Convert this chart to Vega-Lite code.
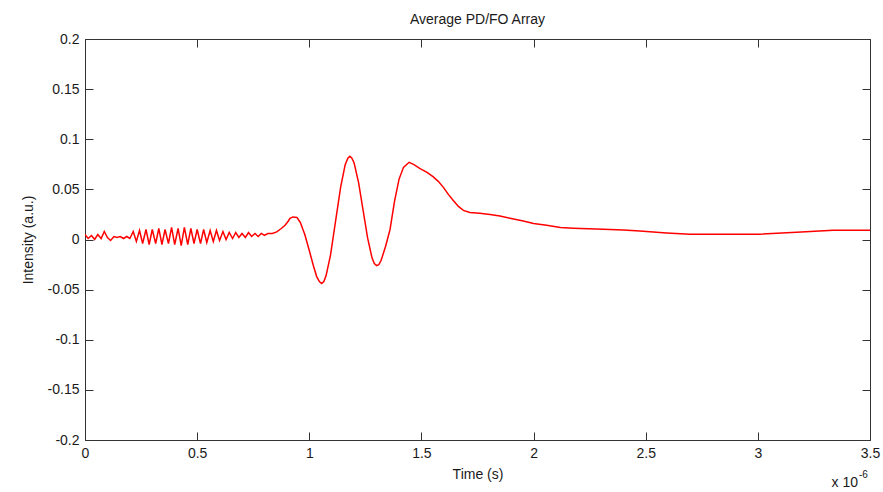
{
  "$schema": "https://vega.github.io/schema/vega-lite/v6.json",
  "width": 785,
  "height": 401,
  "autosize": {"type": "none"},
  "padding": {"left": 85, "top": 39, "right": 13, "bottom": 52},
  "background": "white",
  "config": {
    "view": {"stroke": null},
    "font": "Liberation Sans",
    "axis": {
      "grid": false,
      "domainColor": "#333333",
      "domainWidth": 1,
      "tickColor": "#333333",
      "tickWidth": 1,
      "tickSize": -8,
      "labelFlush": false,
      "labelOverlap": false,
      "labelFont": "Liberation Sans",
      "labelFontSize": 14,
      "labelColor": "#1a1a1a",
      "titleFont": "Liberation Sans",
      "titleFontSize": 14,
      "titleFontWeight": "normal",
      "titleColor": "#1a1a1a"
    }
  },
  "title": {
    "text": "Average PD/FO Array",
    "font": "Liberation Sans",
    "fontSize": 14,
    "fontWeight": "normal",
    "color": "#1a1a1a",
    "offset": 5
  },
  "data": {
    "values": [
      {"t": 0.000, "v": 0.005}, {"t": 0.014, "v": 0.001}, {"t": 0.029, "v": 0.004}, {"t": 0.043, "v": 0.000},
      {"t": 0.057, "v": 0.005}, {"t": 0.072, "v": 0.001}, {"t": 0.086, "v": 0.008}, {"t": 0.100, "v": 0.002},
      {"t": 0.114, "v": -0.001}, {"t": 0.129, "v": 0.003}, {"t": 0.143, "v": 0.002}, {"t": 0.157, "v": 0.003},
      {"t": 0.172, "v": 0.001}, {"t": 0.186, "v": 0.003}, {"t": 0.200, "v": 0.001}, {"t": 0.215, "v": 0.008},
      {"t": 0.229, "v": -0.002}, {"t": 0.243, "v": 0.009}, {"t": 0.257, "v": -0.004}, {"t": 0.272, "v": 0.010},
      {"t": 0.286, "v": -0.005}, {"t": 0.300, "v": 0.010}, {"t": 0.315, "v": -0.004}, {"t": 0.329, "v": 0.011},
      {"t": 0.343, "v": -0.005}, {"t": 0.357, "v": 0.010}, {"t": 0.372, "v": -0.004}, {"t": 0.386, "v": 0.012},
      {"t": 0.400, "v": -0.005}, {"t": 0.415, "v": 0.011}, {"t": 0.429, "v": -0.006}, {"t": 0.443, "v": 0.012},
      {"t": 0.458, "v": -0.005}, {"t": 0.472, "v": 0.011}, {"t": 0.486, "v": -0.004}, {"t": 0.500, "v": 0.010},
      {"t": 0.515, "v": -0.004}, {"t": 0.529, "v": 0.010}, {"t": 0.543, "v": -0.003}, {"t": 0.558, "v": 0.009},
      {"t": 0.572, "v": -0.002}, {"t": 0.586, "v": 0.009}, {"t": 0.600, "v": -0.001}, {"t": 0.615, "v": 0.008},
      {"t": 0.629, "v": 0.000}, {"t": 0.643, "v": 0.007}, {"t": 0.658, "v": 0.001}, {"t": 0.672, "v": 0.007},
      {"t": 0.686, "v": 0.002}, {"t": 0.700, "v": 0.006}, {"t": 0.715, "v": 0.002}, {"t": 0.729, "v": 0.007},
      {"t": 0.743, "v": 0.003}, {"t": 0.758, "v": 0.006}, {"t": 0.772, "v": 0.003}, {"t": 0.786, "v": 0.006},
      {"t": 0.800, "v": 0.004}, {"t": 0.815, "v": 0.006}, {"t": 0.835, "v": 0.006}, {"t": 0.855, "v": 0.0076},
      {"t": 0.875, "v": 0.011}, {"t": 0.892, "v": 0.0142}, {"t": 0.905, "v": 0.018}, {"t": 0.914, "v": 0.021},
      {"t": 0.927, "v": 0.0225}, {"t": 0.945, "v": 0.022}, {"t": 0.960, "v": 0.017}, {"t": 0.970, "v": 0.011},
      {"t": 0.980, "v": 0.005}, {"t": 0.990, "v": -0.003}, {"t": 1.000, "v": -0.011}, {"t": 1.018, "v": -0.026},
      {"t": 1.033, "v": -0.037}, {"t": 1.045, "v": -0.042}, {"t": 1.055, "v": -0.044}, {"t": 1.065, "v": -0.042},
      {"t": 1.075, "v": -0.036}, {"t": 1.095, "v": -0.015}, {"t": 1.118, "v": 0.0195}, {"t": 1.140, "v": 0.0526},
      {"t": 1.160, "v": 0.0745}, {"t": 1.172, "v": 0.081}, {"t": 1.181, "v": 0.083}, {"t": 1.190, "v": 0.081},
      {"t": 1.200, "v": 0.0763}, {"t": 1.220, "v": 0.0565}, {"t": 1.240, "v": 0.029}, {"t": 1.260, "v": 0.0016},
      {"t": 1.280, "v": -0.0186}, {"t": 1.290, "v": -0.024}, {"t": 1.300, "v": -0.026}, {"t": 1.310, "v": -0.025},
      {"t": 1.320, "v": -0.021}, {"t": 1.340, "v": -0.007}, {"t": 1.360, "v": 0.010}, {"t": 1.380, "v": 0.038},
      {"t": 1.400, "v": 0.060}, {"t": 1.420, "v": 0.072}, {"t": 1.445, "v": 0.077}, {"t": 1.465, "v": 0.075},
      {"t": 1.494, "v": 0.0707}, {"t": 1.525, "v": 0.067}, {"t": 1.553, "v": 0.0624}, {"t": 1.575, "v": 0.058},
      {"t": 1.598, "v": 0.052}, {"t": 1.620, "v": 0.045}, {"t": 1.642, "v": 0.039}, {"t": 1.665, "v": 0.033},
      {"t": 1.687, "v": 0.029}, {"t": 1.716, "v": 0.027}, {"t": 1.760, "v": 0.0262}, {"t": 1.806, "v": 0.025},
      {"t": 1.850, "v": 0.0235}, {"t": 1.900, "v": 0.021}, {"t": 1.954, "v": 0.0185}, {"t": 2.000, "v": 0.016},
      {"t": 2.058, "v": 0.0142}, {"t": 2.120, "v": 0.012}, {"t": 2.177, "v": 0.0113}, {"t": 2.311, "v": 0.0103},
      {"t": 2.400, "v": 0.0095}, {"t": 2.474, "v": 0.0086}, {"t": 2.593, "v": 0.0066}, {"t": 2.697, "v": 0.0053},
      {"t": 2.850, "v": 0.0052}, {"t": 3.009, "v": 0.0053}, {"t": 3.173, "v": 0.0073}, {"t": 3.336, "v": 0.0093},
      {"t": 3.500, "v": 0.0093}
    ]
  },
  "layer": [
    {
      "mark": {"type": "line", "color": "#ff0000", "strokeWidth": 1.5, "clip": true},
      "encoding": {
        "x": {
          "field": "t", "type": "quantitative",
          "scale": {"domain": [0, 3.5], "nice": false, "zero": false},
          "axis": {
            "orient": "bottom",
            "values": [0, 0.5, 1, 1.5, 2, 2.5, 3, 3.5],
            "labelExpr": "toString(round(datum.value*10)/10)",
            "labelPadding": 14,
            "title": "Time (s)",
            "titlePadding": 7
          }
        },
        "y": {
          "field": "v", "type": "quantitative",
          "scale": {"domain": [-0.2, 0.2], "nice": false, "zero": false},
          "axis": {
            "orient": "left",
            "values": [-0.2, -0.15, -0.1, -0.05, 0, 0.05, 0.1, 0.15, 0.2],
            "labelExpr": "toString(round(datum.value*100)/100)",
            "labelPadding": 14,
            "title": "Intensity (a.u.)",
            "titlePadding": 12
          }
        }
      }
    },
    {
      "mark": {"type": "line", "strokeOpacity": 0},
      "encoding": {
        "x": {
          "field": "t", "type": "quantitative",
          "axis": {"orient": "top", "values": [0, 0.5, 1, 1.5, 2, 2.5, 3, 3.5], "labels": false, "title": null}
        },
        "y": {
          "field": "v", "type": "quantitative",
          "axis": {"orient": "right", "values": [-0.2, -0.15, -0.1, -0.05, 0, 0.05, 0.1, 0.15, 0.2], "labels": false, "title": null}
        }
      }
    },
    {
      "data": {"values": [{"t": 3.5, "v": -0.2, "label": "x 10"}]},
      "mark": {"type": "text", "align": "right", "baseline": "middle", "dx": -12, "dy": 43, "fontSize": 14, "font": "Liberation Sans", "color": "#1a1a1a"},
      "encoding": {
        "x": {"field": "t", "type": "quantitative", "axis": null},
        "y": {"field": "v", "type": "quantitative", "axis": null},
        "text": {"field": "label"}
      }
    },
    {
      "data": {"values": [{"t": 3.5, "v": -0.2, "label": "-6"}]},
      "mark": {"type": "text", "align": "left", "baseline": "middle", "dx": -11, "dy": 35, "fontSize": 10, "font": "Liberation Sans", "color": "#1a1a1a"},
      "encoding": {
        "x": {"field": "t", "type": "quantitative", "axis": null},
        "y": {"field": "v", "type": "quantitative", "axis": null},
        "text": {"field": "label"}
      }
    }
  ],
  "resolve": {"axis": {"x": "independent", "y": "independent"}}
}
